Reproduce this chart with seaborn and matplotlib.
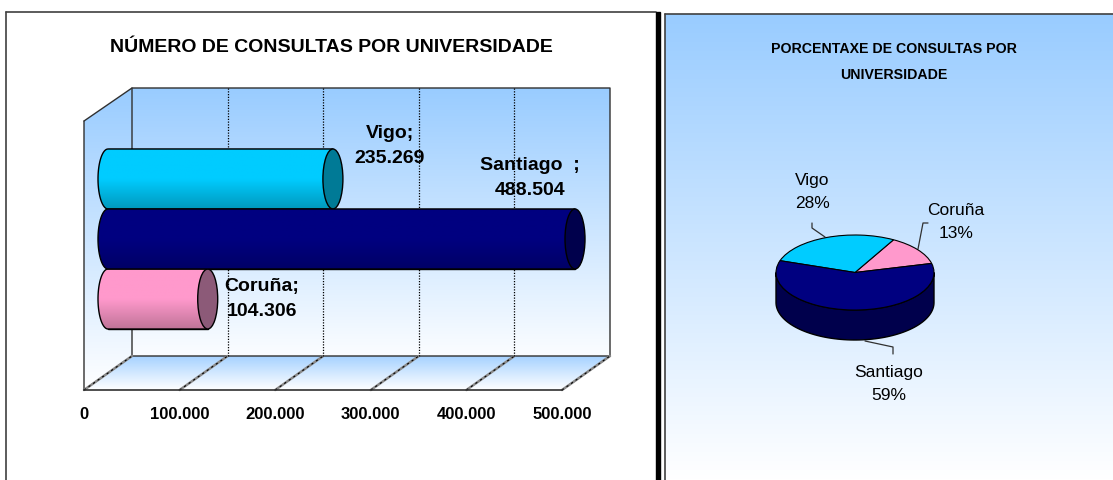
import numpy as np
import matplotlib
matplotlib.use("Agg")
import matplotlib.pyplot as plt
import matplotlib.patches as mpatches
from matplotlib.colors import LinearSegmentedColormap
import seaborn as sns

universidades = ["Vigo", "Santiago", "Coruña"]
consultas = [235269, 488504, 104306]
consultas_txt = ["235.269", "488.504", "104.306"]
nomes_txt = ["Vigo;", "Santiago  ;", "Coruña;"]

tick_values = [0, 100000, 200000, 300000, 400000, 500000]
tick_labels = ["0", "100.000", "200.000", "300.000", "400.000", "500.000"]

pie_names = ["Coruña", "Vigo", "Santiago"]
pie_pct = [13, 28, 59]

title_left = "NÚMERO DE CONSULTAS POR UNIVERSIDADE"
title_right = "PORCENTAXE DE CONSULTAS POR\nUNIVERSIDADE"

bar_colors = {"Vigo": "#00CCFF", "Santiago": "#000080", "Coruña": "#FF99CC"}
bar_dark = {"Vigo": "#0098BC", "Santiago": "#000066", "Coruña": "#C07498"}
cap_colors = {"Vigo": "#007A96", "Santiago": "#00004C", "Coruña": "#8C5A78"}

W, H = 1113, 480
BLUE = "#99CCFF"
FONT = ["Liberation Sans", "DejaVu Sans"]

sns.set_style("white")
plt.rcParams["font.family"] = FONT
plt.rcParams["text.color"] = "black"


def px_axes(fig, x0, y0, x1, y1, **kw):
    # rectangle given in image pixels, y pointing down
    return fig.add_axes([x0 / W, 1 - y1 / H, (x1 - x0) / W, (y1 - y0) / H], **kw)


def grad(ax, pts, c_top=BLUE, c_bot="#FFFFFF", z=1):
    # vertical gradient clipped to a polygon
    pts = np.array(pts, dtype=float)
    cmap = LinearSegmentedColormap.from_list("g", [c_top, c_bot])
    ys = np.linspace(0, 1, 256).reshape(-1, 1)
    ext = (pts[:, 0].min(), pts[:, 0].max(), pts[:, 1].max(), pts[:, 1].min())
    im = ax.imshow(ys, cmap=cmap, extent=ext, aspect="auto", zorder=z, origin="upper")
    poly = mpatches.Polygon(pts, transform=ax.transData, fc="none", ec="none")
    ax.add_patch(poly)
    im.set_clip_path(poly)


fig = plt.figure(figsize=(W / 100, H / 100), dpi=100, facecolor="white")

# background layer in image pixels
bg = px_axes(fig, 0, 0, W, H)
bg.set_axis_off()

# frames of the two panels
grad(bg, [(665, 14), (W, 14), (W, H), (665, H)], z=0)
bg.plot([665, 665], [14, H], color="#404040", lw=1.2)
bg.plot([665, W], [14, 14], color="#404040", lw=1.2)
bg.plot([6, 6], [12, H], color="#404040", lw=1.2)
bg.plot([6, 656], [12, 12], color="#404040", lw=1.2)
bg.add_patch(mpatches.Rectangle((655.5, 12), 4.5, H - 12, color="black", zorder=2))

# 3d box of the bar chart
FX0, FX1, FY = 84, 562, 390
BX0, BX1, BY0, BY = 132, 610, 88, 356
grad(bg, [(BX0, BY0), (BX1, BY0), (BX1, BY), (BX0, BY)], c_bot="#FBFDFF")
grad(bg, [(FX0, 121), (BX0, BY0), (BX0, BY), (FX0, FY)], c_bot="#FFFFFF")
grad(bg, [(FX0, FY), (BX0, BY), (BX1, BY), (FX1, FY)], c_top="#A6D2FF", z=1)
box = "#303030"
bg.plot([FX0, BX0, BX1, BX1], [121, BY0, BY0, BY], color=box, lw=1)
bg.plot([FX0, FX0, BX0, BX0], [121, FY, BY, BY0], color=box, lw=1)
bg.plot([BX0, BX1, FX1], [BY, BY, FY], color=box, lw=1)

sc = (FX1 - FX0) / tick_values[-1]
for v in tick_values:
    fx = FX0 + v * sc
    bx = BX0 + v * sc
    bg.plot([fx, bx], [FY, BY], color="#8A8A8A", lw=1.8, zorder=2)
    bg.plot([fx, bx], [FY, BY], color="black", lw=0.8, ls=(0, (2, 3)), zorder=3)
    if 0 < v < tick_values[-1]:
        bg.plot([bx, bx], [BY0, BY], color="black", lw=0.9, ls=(0, (1, 1.2)), zorder=2)

bg.set_xlim(0, W)
bg.set_ylim(H, 0)

# front axis with the tick labels
front = px_axes(fig, FX0, FY - 40, FX1, FY)
front.patch.set_alpha(0)
sns.despine(ax=front, left=True, top=True, right=True)
front.spines["bottom"].set_color(box)
front.spines["bottom"].set_linewidth(1.2)
front.set_xlim(tick_values[0], tick_values[-1])
front.set_yticks([])
front.set_xticks(tick_values)
front.set_xticklabels(tick_labels, fontsize=12, fontweight="bold", color="black")
front.tick_params(axis="x", length=0, pad=12)

# cylinders: seaborn bars, depth offset of the box floor, room on the left for the rounded end
DX = 24
ROOM = 14
ax = px_axes(fig, FX0 + DX - ROOM, 119, FX1 + DX, 359)
ax.patch.set_alpha(0)
sns.barplot(x=consultas, y=universidades, hue=universidades, palette=bar_colors,
            hue_order=universidades, order=universidades, orient="h", width=1,
            dodge=False, legend=False, ax=ax, edgecolor="black", linewidth=1)
ax.set_axis_off()

cap_w = 20 / sc
offsets = {"Vigo": (57, 33), "Santiago": (-45, 61), "Coruña": (54, 0)}
for i, name in enumerate(universidades):
    v = consultas[i]
    r = ax.patches[i]
    y0, y1 = r.get_y(), r.get_y() + r.get_height()
    ym = (y0 + y1) / 2
    t = np.linspace(np.pi / 2, 3 * np.pi / 2, 40)
    verts = [(cap_w / 2 * np.cos(a), ym + (y1 - y0) / 2 * np.sin(a)) for a in t]
    verts = verts + [(v, y0), (v, y1)]
    # flat bar is repainted with a vertical shading and a rounded left end
    cmap = LinearSegmentedColormap.from_list(
        "c", [bar_colors[name], bar_colors[name], bar_dark[name]])
    im = ax.imshow(np.linspace(0, 1, 128).reshape(-1, 1), cmap=cmap, aspect="auto",
                   extent=(-cap_w, v, y1, y0), zorder=3 + i % 2)
    outline = mpatches.Polygon(verts, closed=True, fc="none", ec="black", lw=1,
                               zorder=3.5 + i % 2, clip_on=False)
    ax.add_patch(outline)
    im.set_clip_path(outline)
    cap = mpatches.Ellipse((v, ym), cap_w, y1 - y0, fc=cap_colors[name], ec="black",
                           lw=1, zorder=3.6 + i % 2, clip_on=False)
    ax.add_patch(cap)
    dx, dy = offsets[name]
    ax.annotate(nomes_txt[i] + "\n" + consultas_txt[i], xy=(v, ym), xytext=(dx, dy),
                textcoords="offset pixels", ha="center", va="center", fontsize=14,
                fontweight="bold", linespacing=1.55, zorder=8, annotation_clip=False)
ax.set_xlim(-ROOM / sc, tick_values[-1])
ax.set_ylim(3, -1)

# titles
bg.text(331, 47, title_left, ha="center", va="center", fontsize=14, fontweight="bold", zorder=9)
bg.text(894, 62, title_right, ha="center", va="center", fontsize=10.2, fontweight="bold",
        linespacing=2.1, zorder=9)

# pie: one unit is 79 px across and 37.5 px down, so the circle reads as an ellipse
PCX, PCY, PA, PB, DEPTH = 855, 272.5, 79, 37.5, 30
pie_colors = [bar_colors[n] for n in pie_names]
pie_ax = px_axes(fig, PCX - PA * 1.02, PCY - PB * 1.02, PCX + PA * 1.02, PCY + PB * 1.02)
side = px_axes(fig, PCX - PA * 1.02, PCY - PB * 1.02, PCX + PA * 1.02,
               PCY + PB * 1.02 + DEPTH)
side.set_axis_off()
side.set_xlim(-1.02, 1.02)
side.set_ylim(-1.02 - DEPTH / PB, 1.02)
t = np.linspace(np.pi, 2 * np.pi, 80)
xs = np.cos(t)
ys = np.sin(t)
d = DEPTH / PB
side.add_patch(mpatches.Polygon(
    np.r_[np.c_[xs, ys], np.c_[xs[::-1], ys[::-1] - d]],
    fc="#00004C", ec="black", lw=1))
pie_ax.set_zorder(side.get_zorder() + 1)
pie_ax.pie(pie_pct, colors=pie_colors, startangle=14, counterclock=True, radius=1,
           wedgeprops={"edgecolor": "black", "linewidth": 0.8})
pie_ax.set_aspect("auto")
pie_ax.set_xlim(-1.02, 1.02)
pie_ax.set_ylim(-1.02, 1.02)
pie_ax.patch.set_alpha(0)

# pie labels and their leader lines
for name, pct, (lx, ly) in zip(pie_names, pie_pct, [(956, 222), (812, 192), (889, 384)]):
    bg.text(lx, ly, f"{name}\n{pct}%", ha="center", va="center", fontsize=12.5,
            linespacing=1.6, zorder=9)
bg.plot([812, 812, 825], [223, 228, 237], color="#303030", lw=0.9)
bg.plot([928, 923, 918], [223, 223, 249], color="#303030", lw=0.9)
bg.plot([893, 893, 865], [354, 347, 341], color="#303030", lw=0.9)

fig.savefig("out.png", dpi=100)
